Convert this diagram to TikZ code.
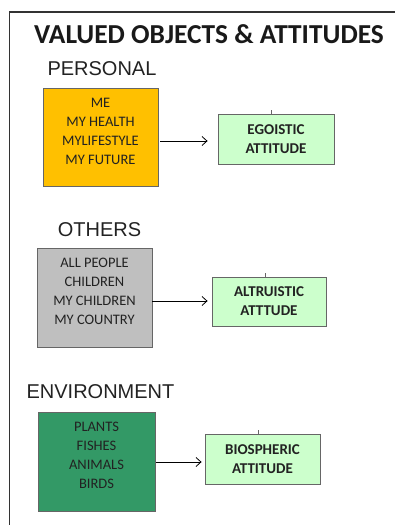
\documentclass[tikz,border=0pt]{standalone}
\usepackage{fontspec}
\setmainfont{Carlito}
\newfontfamily\headfont{Liberation Sans}
\usetikzlibrary{arrows.meta}
\definecolor{yellowbox}{HTML}{FFC000}
\definecolor{graybox}{HTML}{BFBFBF}
\definecolor{greenbox}{HTML}{339966}
\definecolor{lightgreen}{HTML}{CCFFCC}
\definecolor{textdark}{HTML}{222222}
\definecolor{framecol}{HTML}{333333}
\definecolor{edgecol}{HTML}{666666}
\tikzset{
  heading/.style={font=\headfont\fontsize{20}{24}\selectfont, text=textdark, inner sep=0pt},
  objbox/.style={draw=edgecol, line width=0.8pt, inner sep=0pt},
  objtext/.style={font=\fontsize{14.5}{19}\selectfont, text=textdark, align=center, inner sep=0pt},
  attbox/.style={draw=edgecol, line width=0.8pt, fill=lightgreen, inner sep=0pt,
    minimum width=115pt, minimum height=50pt, align=center,
    font=\bfseries\fontsize{15}{19}\selectfont, text=textdark},
  arr/.style={-{Straight Barb[length=5pt,width=9pt]}, line width=0.8pt, black},
  tick/.style={draw=edgecol, line width=0.6pt}
}
\begin{document}
\begin{tikzpicture}[x=1pt,y=-1pt]
\useasboundingbox (0,0) rectangle (395,525);
% frame
\draw[framecol, line width=1.3pt] (395,12) -- (9.5,12) -- (9.5,526);
% title
\node[inner sep=0pt, text=black!90, font=\bfseries\fontsize{27.4}{30}\selectfont] (title) at (209,34) {VALUED OBJECTS \& ATTITUDES};
% headings
\node[heading] (personal) at (102,68.5) {PERSONAL};
\node[heading] (others) at (99.5,229.5) {OTHERS};
\node[heading] (environment) at (100.5,392) {ENVIRONMENT};
% object boxes
\node[objbox, fill=yellowbox, minimum width=115pt, minimum height=98pt] (ybox) at (100.5,137) {};
\node[objtext] (ytext) at (100.5,131) {ME\\MY HEALTH\\MYLIFESTYLE\\MY FUTURE};
\node[objbox, fill=graybox, minimum width=115pt, minimum height=99pt] (gbox) at (94.5,297.5) {};
\node[objtext] (gtext) at (94.5,291) {ALL PEOPLE\\CHILDREN\\MY CHILDREN\\MY COUNTRY};
\node[objbox, fill=greenbox, minimum width=117pt, minimum height=99pt] (ebox) at (96.5,461.5) {};
\node[objtext] (etext) at (96.5,455.5) {PLANTS\\FISHES\\ANIMALS\\BIRDS};
% attitude boxes
\node[attbox, minimum width=116pt] (ego) at (276,139) {EGOISTIC\\ATTITUDE};
\node[attbox, minimum width=114pt, minimum height=49pt] (alt) at (269,301.5) {ALTRUISTIC\\ATTTUDE};
\node[attbox] (bio) at (262.5,459) {BIOSPHERIC\\ATTITUDE};
% ticks
\draw[tick] ([xshift=-5pt]ego.north) -- ++(0,-4);
\draw[tick] ([xshift=-4pt]alt.north) -- ++(0,-4);
\draw[tick] ([xshift=-4.5pt]bio.north) -- ++(0,-4);
% arrows
\draw[arr] ([xshift=2pt,yshift=-4pt]ybox.east) -- ([xshift=-10pt,yshift=-2pt]ego.west);
\draw[arr] ([xshift=0pt,yshift=-3.5pt]gbox.east) -- ([xshift=-4pt,yshift=0.5pt]alt.west);
\draw[arr] ([xshift=1pt,yshift=-0.5pt]ebox.east) -- ([xshift=-3pt,yshift=-3pt]bio.west);
\end{tikzpicture}
\end{document}
